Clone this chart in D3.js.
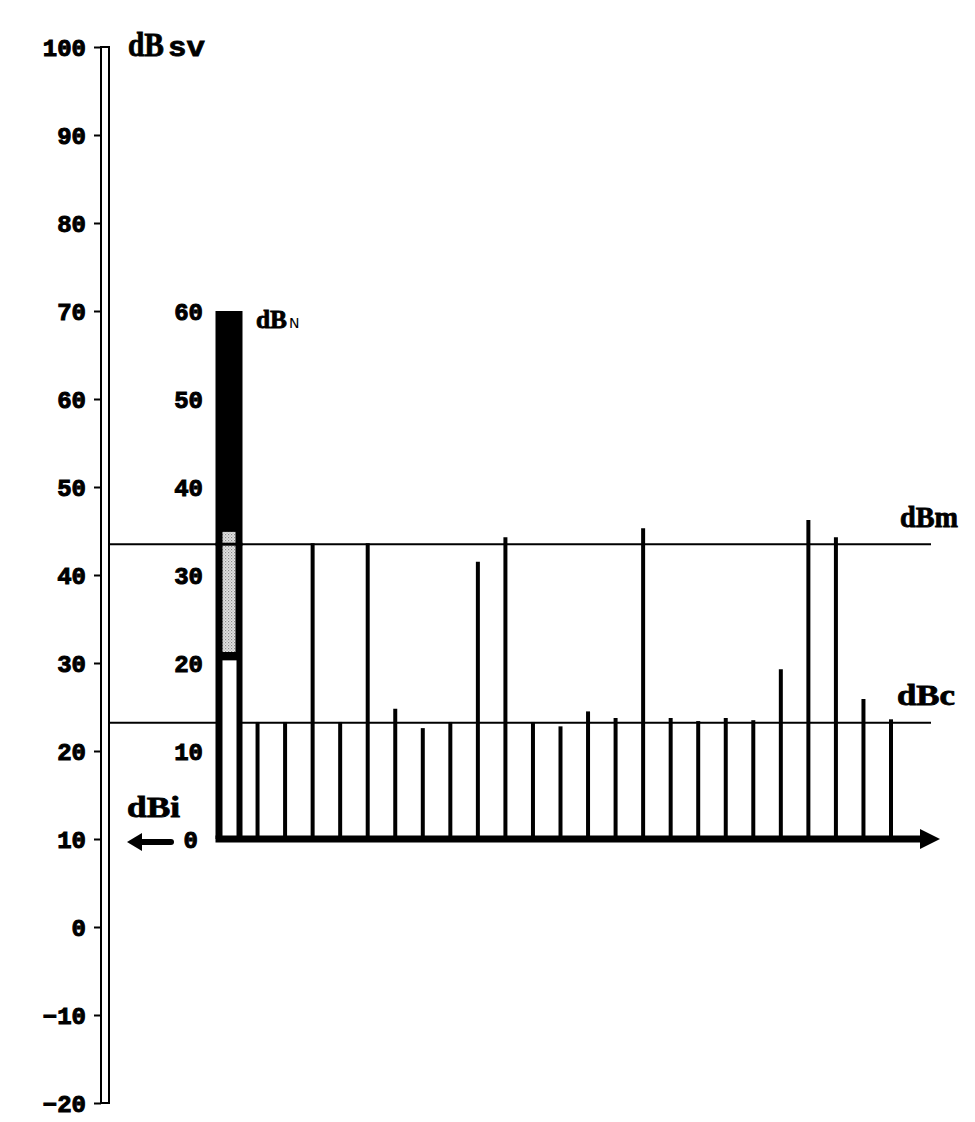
<!DOCTYPE html>
<html>
<head>
<meta charset="utf-8">
<script src="https://cdn.jsdelivr.net/npm/d3@7"></script>
<style>
  html, body { margin: 0; padding: 0; background: #fff; }
  svg { display: block; }
  .tick text { font-family: "Liberation Mono", monospace; font-weight: bold; font-size: 24px; fill: #000; stroke: #000; stroke-width: 1px; }
  .lbl { font-family: "Liberation Serif", serif; font-weight: bold; fill: #000; stroke: #000; stroke-width: 0.8px; }
</style>
</head>
<body>
<svg id="chart" width="975" height="1122"></svg>
<script>
// ---- data ----
const svTicks = [-20, -10, 0, 10, 20, 30, 40, 50, 60, 70, 80, 90, 100];
const nTicks = [0, 10, 20, 30, 40, 50, 60];
const spikeIndex = [1,2,3,4,5,6,7,8,9,10,11,12,13,14,15,16,17,18,19,20,21,22,23,24];
const spikeValues = [13.3, 13.3, 33.6, 13.3, 33.6, 14.8, 12.6, 13.3, 31.5, 34.3, 13.3, 12.8,
                     14.5, 13.75, 35.3, 13.75, 13.4, 13.75, 13.5, 19.3, 36.25, 34.3, 15.9, 13.6];
const noiseBar = { top: 60, grayTop: 34.9, grayBottom: 21.25, whiteTop: 20.3 };
const dBm = 33.5;
const dBc = 13.2;

// ---- scales ----
const svg = d3.select("#chart");
const y = d3.scaleLinear().domain([-20, 100]).range([1103, 47]);
const yN = d3.scaleLinear().domain([0, 60]).range([y(10), y(70)]);
const x = d3.scalePoint().domain(d3.range(0, 25)).range([230, 891]);

// pattern for stippled gray
const defs = svg.append("defs");
const pat = defs.append("pattern").attr("id", "stip").attr("width", 3).attr("height", 3)
  .attr("patternUnits", "userSpaceOnUse");
pat.append("rect").attr("width", 3).attr("height", 3).attr("fill", "#e4e4e4");
pat.append("rect").attr("x", 0).attr("y", 0).attr("width", 1.2).attr("height", 1.2).attr("fill", "#8a8a8a");
pat.append("rect").attr("x", 1.5).attr("y", 1.5).attr("width", 1.2).attr("height", 1.2).attr("fill", "#a8a8a8");

// ---- left axis (dBsv) ----
const axisX = 101;
svg.append("rect")
  .attr("x", axisX).attr("y", y(100)).attr("width", 8).attr("height", y(-20) - y(100))
  .attr("fill", "none").attr("stroke", "#000").attr("stroke-width", 2);
const gL = svg.append("g").attr("transform", `translate(${axisX},0)`)
  .call(d3.axisLeft(y).tickValues(svTicks).tickSize(7).tickPadding(8).tickFormat(d3.format("d")));
gL.select(".domain").remove();
gL.selectAll(".tick line").attr("stroke", "#000").attr("stroke-width", 2);
gL.selectAll(".tick text").attr("dy", "0.36em");

// ---- dBN axis ----
const gN = svg.append("g").attr("transform", "translate(203,0)")
  .call(d3.axisLeft(yN).tickValues(nTicks).tickSize(0).tickPadding(0).tickFormat(d3.format("d")));
gN.select(".domain").remove();
gN.selectAll(".tick text").attr("dy", "0.36em")
  .attr("dx", d => d === 0 ? -5 : 0);

// ---- reference lines ----
[dBm, dBc].forEach(v => {
  svg.append("line")
    .attr("x1", 110).attr("x2", 931)
    .attr("y1", yN(v)).attr("y2", yN(v))
    .attr("stroke", "#000").attr("stroke-width", 2);
});

// ---- noise bar ----
const bw = 27;
const bx = x(0) - bw / 2 - 1;
svg.append("rect").attr("x", bx).attr("y", yN(noiseBar.top))
  .attr("width", bw).attr("height", yN(0) - yN(noiseBar.top)).attr("fill", "#000");
svg.append("rect").attr("x", bx + 7).attr("y", yN(noiseBar.grayTop))
  .attr("width", bw - 14).attr("height", yN(noiseBar.grayBottom) - yN(noiseBar.grayTop))
  .attr("fill", "url(#stip)");
svg.append("rect").attr("x", bx + 7).attr("y", yN(noiseBar.whiteTop))
  .attr("width", bw - 13).attr("height", yN(0) - yN(noiseBar.whiteTop))
  .attr("fill", "#fff");
// dBm line re-drawn across the bar
svg.append("line").attr("x1", bx).attr("x2", bx + bw)
  .attr("y1", yN(dBm)).attr("y2", yN(dBm)).attr("stroke", "#000").attr("stroke-width", 3);

// ---- spikes ----
svg.append("g").selectAll("line").data(spikeIndex).join("line")
  .attr("x1", d => x(d)).attr("x2", d => x(d))
  .attr("y1", yN(0)).attr("y2", (d, i) => yN(spikeValues[i]))
  .attr("stroke", "#000").attr("stroke-width", 4);

// ---- baseline with arrow ----
const by = yN(0);
svg.append("line").attr("x1", bx).attr("x2", 924).attr("y1", by).attr("y2", by)
  .attr("stroke", "#000").attr("stroke-width", 7);
svg.append("path").attr("d", `M920,${by - 10} L940,${by} L920,${by + 10} Z`).attr("fill", "#000");

// ---- dBi arrow ----
const ay = by + 3;
svg.append("line").attr("x1", 140).attr("x2", 171).attr("y1", ay).attr("y2", ay)
  .attr("stroke", "#000").attr("stroke-width", 6).attr("stroke-linecap", "round");
svg.append("path").attr("d", `M127,${ay} L142,${ay - 9} L142,${ay + 9} Z`).attr("fill", "#000");

// ---- labels ----
function lbl(t, x0, y0, size, len) {
  const e = svg.append("text").attr("class", "lbl").attr("x", x0).attr("y", y0)
    .attr("font-size", size).text(t);
  if (len) e.attr("textLength", len).attr("lengthAdjust", "spacingAndGlyphs");
  return e;
}
lbl("dB", 128, 56, 34, 36);
svg.append("text").attr("x", 168).attr("y", 56)
  .attr("font-family", "Liberation Mono, monospace").attr("font-weight", "bold")
  .attr("stroke", "#000").attr("stroke-width", 0.8)
  .attr("font-size", 28).attr("textLength", 37).attr("lengthAdjust", "spacingAndGlyphs").text("sv");
lbl("dB", 256, 328, 25, 31);
svg.append("text").attr("x", 289).attr("y", 328)
  .attr("font-family", "DejaVu Sans, sans-serif").attr("font-size", 14).text("N");
lbl("dBm", 900, 527, 29, 58);
lbl("dBc", 897, 705, 29, 58);
lbl("dBi", 127, 817, 29, 53);
</script>
</body>
</html>
